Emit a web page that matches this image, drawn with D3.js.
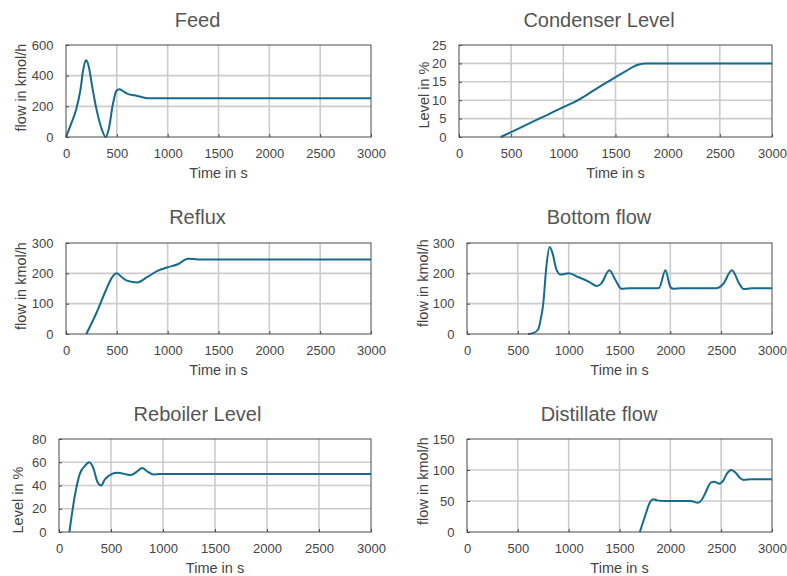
<!DOCTYPE html>
<meta charset="utf-8">
<div id="chart"></div>
<script src="https://d3js.org/d3.v7.min.js"></script>
<style type="text/css">
body { margin: 0; background: #fff; }
text { font-family: "Liberation Sans", Arial, sans-serif; }
.title { font-size: 20px; fill: #555; }
.lab { font-size: 14.5px; fill: #444; }
.tick text { font-size: 13px; fill: #444; }
.grid line { stroke: #cccccc; stroke-width: 1.6; }
.frame { fill: none; stroke: #4a4a4a; stroke-width: 1; }
.series { fill: none; stroke: #156b8b; stroke-width: 2; }
</style>
<script>

// time axis (s)
var timeTicks = [0, 500, 1000, 1500, 2000, 2500, 3000];

// [time, value]
var feed = [[0,0],[50,85],[100,180],[140,300],[170,440],[195,500],[220,470],[260,320],[300,180],[350,55],[390,0],[420,50],[460,210],[495,300],[525,312],[560,300],[600,283],[700,268],[800,253],[900,252],[3000,252]];
var condenser = [[400,0],[600,2.7],[800,5.4],[1000,8.1],[1100,9.4],[1300,12.8],[1500,16.3],[1600,17.9],[1700,19.5],[1780,20],[3000,20]];
var reflux = [[200,0],[300,70],[400,150],[450,185],[500,200],[550,187],[600,176],[700,170],[800,188],[900,208],[1000,220],[1100,230],[1200,248],[1300,246],[3000,246]];
var bottom = [[600,0],[650,3],[700,15],[720,40],[750,100],[780,220],[812,287],[840,268],[880,212],[920,196],[1000,200],[1100,187],[1200,172],[1280,158],[1320,166],[1400,210],[1460,178],[1520,149],[1600,151],[1850,151],[1890,152],[1952,210],[2000,155],[2030,149],[2100,151],[2450,151],[2520,165],[2605,210],[2680,165],[2720,148],[2800,151],[3000,151]];
var reboiler = [[100,0],[150,30],[200,50],[250,57],[290,60],[330,55],[370,43],[405,40],[440,45],[510,50],[560,51],[690,49],[750,52],[800,55],[850,52],[910,49.5],[960,50],[3000,50]];
var distillate = [[1700,0],[1750,25],[1800,48],[1830,53],[1870,51],[1950,50],[2200,50],[2270,47],[2310,52],[2350,65],[2400,80],[2430,81],[2480,78],[2520,83],[2560,95],[2600,100],[2640,96],[2680,88],[2720,84],[2800,85],[3000,85]];

var titles = ["Feed", "Condenser Level", "Reflux", "Bottom flow", "Reboiler Level", "Distillate flow"];
var yLabels = ["flow in kmol/h", "Level in %", "flow in kmol/h", "flow in kmol/h", "Level in %", "flow in kmol/h"];
var yTicks = [
  [0, 200, 400, 600],
  [0, 5, 10, 15, 20, 25],
  [0, 100, 200, 300],
  [0, 100, 200, 300],
  [0, 20, 40, 60, 80],
  [0, 50, 100, 150]
];
var series = [feed, condenser, reflux, bottom, reboiler, distillate];

// layout of each panel: plot box, title center, label positions
var boxes = [
  {l: 66,  r: 371, t: 45,  b: 137, tx: 197.5, ty: 26.5, yx: 26,  yy: 87.5, xy: 178},
  {l: 459, r: 772, t: 45,  b: 137, tx: 599,   ty: 26.5, yx: 429, yy: 95,   xy: 178},
  {l: 66,  r: 371, t: 243, b: 334, tx: 197.5, ty: 224,  yx: 26,  yy: 286,  xy: 375},
  {l: 467, r: 772, t: 243, b: 334, tx: 599,   ty: 224,  yx: 428, yy: 283,  xy: 375},
  {l: 59,  r: 371, t: 439, b: 532, tx: 197.5, ty: 421,  yx: 23,  yy: 500,  xy: 573},
  {l: 467, r: 772, t: 439, b: 532, tx: 599,   ty: 421,  yx: 428, yy: 481,  xy: 573}
];

var svg = d3.select("#chart").append("svg")
  .attr("width", 787).attr("height", 576);

titles.forEach(function(title, i) {
  var bx = boxes[i];
  var yt = yTicks[i];
  var x = d3.scaleLinear().domain([0, 3000]).range([bx.l, bx.r]);
  var y = d3.scaleLinear().domain([yt[0], yt[yt.length - 1]]).range([bx.b, bx.t]);

  var g = svg.append("g");

  // grid
  var grid = g.append("g").attr("class", "grid");
  grid.selectAll(".gx").data(timeTicks.slice(1, -1)).enter().append("line")
    .attr("x1", d => x(d)).attr("x2", d => x(d))
    .attr("y1", bx.t).attr("y2", bx.b);
  grid.selectAll(".gy").data(yt.slice(1, -1)).enter().append("line")
    .attr("x1", bx.l).attr("x2", bx.r)
    .attr("y1", d => y(d)).attr("y2", d => y(d));

  // axes
  var xa = g.append("g")
    .attr("transform", "translate(0," + bx.b + ")")
    .call(d3.axisBottom(x).tickValues(timeTicks).tickFormat(d3.format("d"))
      .tickSizeInner(-3).tickSizeOuter(0).tickPadding(11.5));
  var ya = g.append("g")
    .attr("transform", "translate(" + bx.l + ",0)")
    .call(d3.axisLeft(y).tickValues(yt).tickFormat(d3.format("d"))
      .tickSizeInner(-3).tickSizeOuter(0).tickPadding(12.5));
  [xa, ya].forEach(function(a) {
    a.select(".domain").remove();
    a.selectAll(".tick line").attr("stroke", "#4a4a4a");
    a.attr("font-family", null).attr("font-size", null);
  });

  // data line
  var line = d3.line()
    .x(d => x(d[0]))
    .y(d => y(d[1]))
    .curve(d3.curveMonotoneX);
  g.append("path").datum(series[i]).attr("class", "series").attr("d", line);

  g.append("rect").attr("class", "frame")
    .attr("x", bx.l).attr("y", bx.t)
    .attr("width", bx.r - bx.l).attr("height", bx.b - bx.t);

  // texts
  g.append("text").attr("class", "title")
    .attr("x", bx.tx).attr("y", bx.ty)
    .attr("text-anchor", "middle").text(title);
  g.append("text").attr("class", "lab")
    .attr("x", (bx.l + bx.r) / 2).attr("y", bx.xy)
    .attr("text-anchor", "middle").text("Time in s");
  g.append("text").attr("class", "lab")
    .attr("transform", "translate(" + bx.yx + "," + bx.yy + ") rotate(-90)")
    .attr("text-anchor", "middle").text(yLabels[i]);
});
</script>
